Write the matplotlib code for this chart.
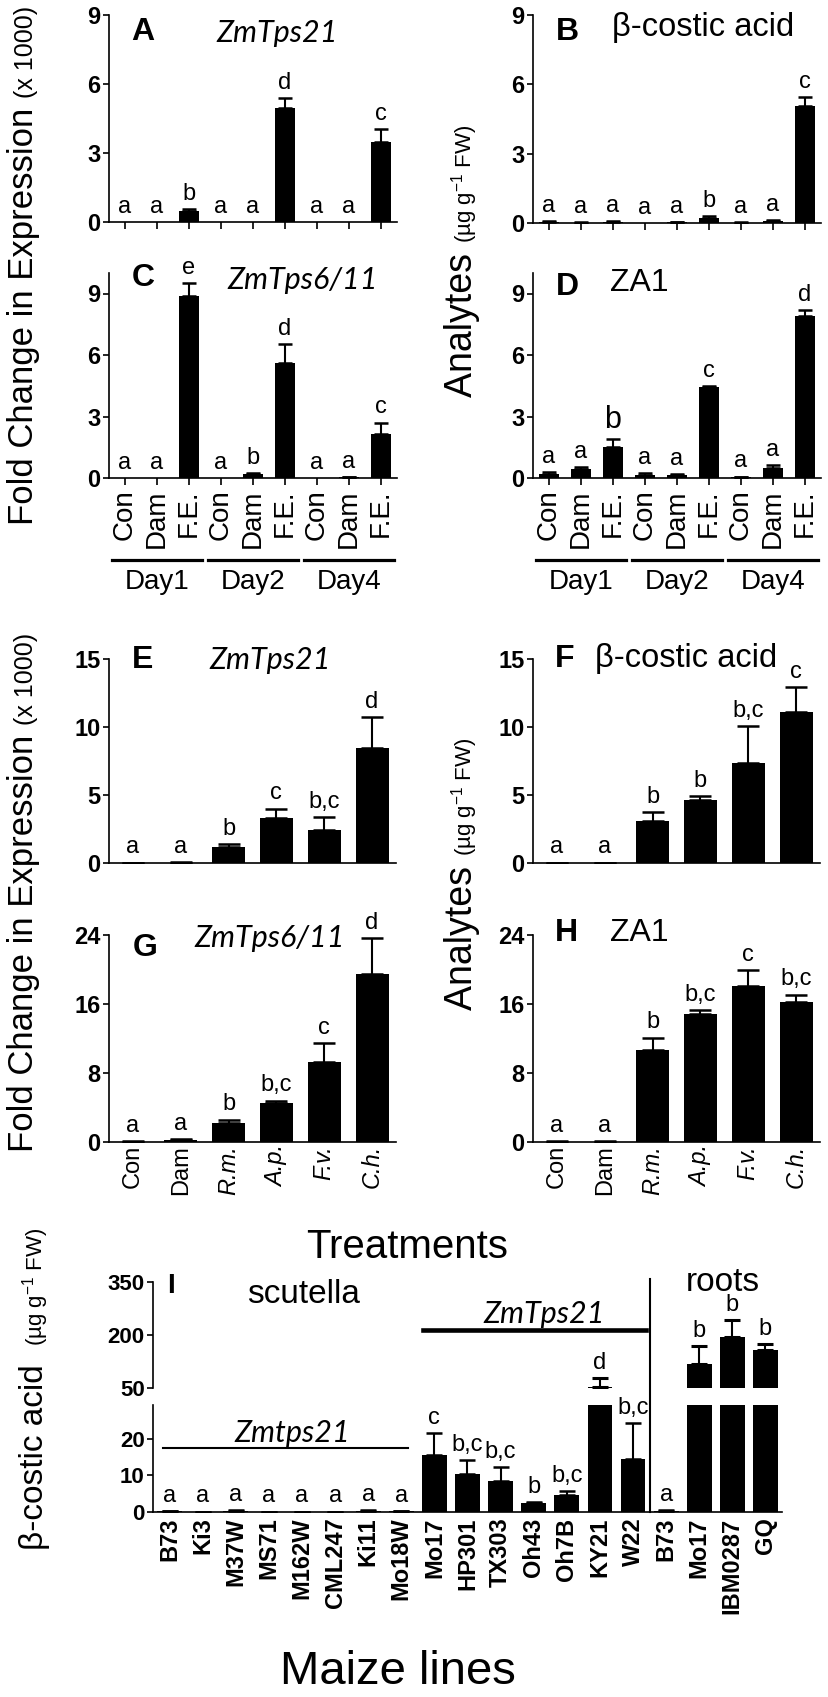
import numpy as np
import matplotlib
matplotlib.use('Agg')
import matplotlib.pyplot as plt
from matplotlib.transforms import blended_transform_factory

plt.rcParams['font.family'] = ['Liberation Sans', 'DejaVu Sans']
plt.rcParams['mathtext.fontset'] = 'custom'
plt.rcParams['mathtext.rm'] = 'Liberation Sans'
plt.rcParams['mathtext.it'] = 'Liberation Sans:italic'
plt.rcParams['mathtext.bf'] = 'Liberation Sans:bold'

# ---- data ----
day_cats = ['Con', 'Dam', 'F.E.'] * 3
day_groups = ['Day1', 'Day2', 'Day4']

a_vals = [0.01, 0.01, 0.5, 0.01, 0.01, 4.95, 0.01, 0.01, 3.5]
a_err = [0, 0, 0.06, 0, 0, 0.45, 0, 0, 0.55]
a_let = ['a', 'a', 'b', 'a', 'a', 'd', 'a', 'a', 'c']

b_vals = [0.05, 0.02, 0.06, 0.01, 0.03, 0.22, 0.02, 0.08, 5.05]
b_err = [0.02, 0.01, 0.02, 0, 0.01, 0.08, 0.01, 0.04, 0.4]
b_let = ['a', 'a', 'a', 'a', 'a', 'b', 'a', 'a', 'c']

c_vals = [0.01, 0.01, 8.9, 0.01, 0.2, 5.6, 0.01, 0.03, 2.15]
c_err = [0, 0, 0.6, 0, 0.05, 0.95, 0, 0.01, 0.55]
c_let = ['a', 'a', 'e', 'a', 'b', 'd', 'a', 'a', 'c']

d_vals = [0.2, 0.45, 1.5, 0.15, 0.15, 4.43, 0.05, 0.5, 7.9]
d_err = [0.1, 0.1, 0.4, 0.07, 0.03, 0.07, 0.02, 0.12, 0.3]
d_let = ['a', 'a', 'b', 'a', 'a', 'c', 'a', 'a', 'd']

treat_cats = ['Con', 'Dam', 'R.m.', 'A.p.', 'F.v.', 'C.h.']
treat_italic = [False, False, True, True, True, True]

e_vals = [0.02, 0.03, 1.2, 3.3, 2.45, 8.45]
e_err = [0.01, 0.01, 0.2, 0.7, 0.9, 2.25]
e_let = ['a', 'a', 'b', 'c', 'b,c', 'd']

f_vals = [0.02, 0.02, 3.1, 4.6, 7.35, 11.1]
f_err = [0.01, 0.01, 0.65, 0.3, 2.7, 1.85]
f_let = ['a', 'a', 'b', 'b', 'b,c', 'c']

g_vals = [0.05, 0.25, 2.2, 4.5, 9.3, 19.5]
g_err = [0.02, 0.05, 0.4, 0.3, 2.2, 4.1]
g_let = ['a', 'a', 'b', 'b,c', 'c', 'd']

h_vals = [0.05, 0.05, 10.7, 14.85, 18.1, 16.2]
h_err = [0.02, 0.02, 1.4, 0.45, 1.8, 0.9]
h_let = ['a', 'a', 'b', 'b,c', 'c', 'b,c']

maize_lines = ['B73', 'Ki3', 'M37W', 'MS71', 'M162W', 'CML247', 'Ki11', 'Mo18W',
               'Mo17', 'HP301', 'TX303', 'Oh43', 'Oh7B', 'KY21', 'W22',
               'B73', 'Mo17', 'IBM0287', 'GQ']
i_vals = [0.3, 0.1, 0.4, 0.1, 0.1, 0.1, 0.4, 0.3,
          15.6, 10.4, 8.5, 2.5, 4.6, 52, 14.5,
          0.4, 118, 194, 157]
i_err = [0.05, 0.02, 0.05, 0.02, 0.02, 0.02, 0.05, 0.05,
         6.0, 3.8, 3.8, 0.2, 1.1, 26, 9.9,
         0.05, 51, 48, 18]
i_let = ['a'] * 8 + ['c', 'b,c', 'b,c', 'b', 'b,c', 'd', 'b,c', 'a', 'b', 'b', 'b']

# ---- figure ----
W, H = 829, 1697
fig = plt.figure(figsize=(W / 100, H / 100), dpi=100)


def ax_at(l, t, r, b):
    return fig.add_axes([l / W, 1 - b / H, (r - l) / W, (b - t) / H])


def style(ax, yticks, ylim, ysize=17):
    for s in ['top', 'right']:
        ax.spines[s].set_visible(False)
    for s in ['left', 'bottom']:
        ax.spines[s].set_linewidth(1.2)
    ax.set_ylim(*ylim)
    ax.set_yticks(yticks)
    ax.tick_params(axis='y', length=4, width=1.2, pad=2, labelsize=ysize)
    for t in ax.get_yticklabels():
        t.set_fontweight('bold')


def bars(ax, vals, errs, lets, width, capsize, lsize=17, top=None, big=()):
    x = np.arange(len(vals))
    ax.bar(x, vals, width=width, color='black', zorder=3)
    vals = np.array(vals)
    errs = np.array(errs)
    m = errs > 0
    ax.errorbar(x[m], vals[m], yerr=[np.zeros(m.sum()), errs[m]], fmt='none',
                ecolor='black', elinewidth=1.5, capsize=capsize, capthick=1.8, zorder=2)
    for xi, v, e, l in zip(x, vals, errs, lets):
        if top is not None and v + e > top:
            continue
        ax.annotate(l, (xi, v + e), xytext=(0, 3), textcoords='offset points',
                    ha='center', va='bottom', fontsize=lsize + (5 if xi in big else 0))
    ax.set_xlim(-0.5, len(vals) - 0.5)


def title(ax, letter, lx, ly, name, nx, ny, italic=False, nsize=23):
    ax.text(lx, ly, letter, transform=ax.transAxes, fontsize=23, fontweight='bold',
            ha='center', va='center')
    if italic:
        ax.text(nx, ny, name, transform=ax.transAxes, fontsize=22, family='Lato',
                style='italic', ha='center', va='center')
    else:
        ax.text(nx, ny, name, transform=ax.transAxes, fontsize=nsize, ha='center', va='center')


# Panels A-D
axA = ax_at(109, 15, 397, 222)
axB = ax_at(533, 15, 821, 223)
axC = ax_at(109, 273, 397, 478)
axD = ax_at(533, 273, 821, 478)

for ax, v, e, l, yl, bg in [(axA, a_vals, a_err, a_let, (0, 9), ()),
                            (axB, b_vals, b_err, b_let, (0, 9), ()),
                            (axC, c_vals, c_err, c_let, (0, 10), ()),
                            (axD, d_vals, d_err, d_let, (0, 10), (2,))]:
    bars(ax, v, e, l, 0.65, 5, big=bg)
    style(ax, [0, 3, 6, 9], yl)
    ax.set_xticks(range(9))
    ax.tick_params(axis='x', length=5, width=1.2, direction='out')

axA.set_xticklabels([])
axB.set_xticklabels([])
for ax in [axC, axD]:
    ax.set_xticklabels(day_cats, rotation=90, fontsize=20)
    ax.tick_params(axis='x', pad=3)
    tr = blended_transform_factory(ax.transData, ax.transAxes)
    for gi, g in enumerate(day_groups):
        c = gi * 3 + 1
        ax.plot([c - 1.4, c + 1.4], [-0.4, -0.4], color='black', lw=2.3,
                transform=tr, clip_on=False)
        ax.text(c, -0.54, g, transform=tr, ha='center', va='baseline', fontsize=20)

title(axA, 'A', 0.118, 0.918, 'ZmTps21', 0.583, 0.913, italic=True)
title(axB, 'B', 0.118, 0.92, 'β-costic acid', 0.59, 0.94, nsize=23.5)
title(axC, 'C', 0.118, 0.976, 'ZmTps6/11', 0.674, 0.966, italic=True)
title(axD, 'D', 0.118, 0.93, 'ZA1', 0.368, 0.95, nsize=23)

# Panels E-H
axE = ax_at(109, 659, 396, 863)
axF = ax_at(533, 659, 820, 863)
axG = ax_at(109, 935, 396, 1142)
axH = ax_at(533, 935, 820, 1142)

for ax, v, e, l, yt in [(axE, e_vals, e_err, e_let, [0, 5, 10, 15]),
                        (axF, f_vals, f_err, f_let, [0, 5, 10, 15]),
                        (axG, g_vals, g_err, g_let, [0, 8, 16, 24]),
                        (axH, h_vals, h_err, h_let, [0, 8, 16, 24])]:
    bars(ax, v, e, l, 0.69, 8)
    style(ax, yt, (yt[0], yt[-1]))
    ax.set_xticks(range(6))
    ax.tick_params(axis='x', length=0, pad=2)

axE.set_xticklabels([])
axF.set_xticklabels([])
for ax in [axG, axH]:
    ax.set_xticklabels(treat_cats, rotation=90, fontsize=17)
    for t, it in zip(ax.get_xticklabels(), treat_italic):
        if it:
            t.set_style('italic')

title(axE, 'E', 0.118, 0.995, 'ZmTps21', 0.56, 0.995, italic=True)
title(axF, 'F', 0.11, 1.0, 'β-costic acid', 0.535, 1.0, nsize=23.5)
title(axG, 'G', 0.125, 0.937, 'ZmTps6/11', 0.56, 0.985, italic=True)
title(axH, 'H', 0.118, 1.01, 'ZA1', 0.372, 1.01, nsize=23)

# Panel I (broken axis)
axIu = ax_at(153, 1282, 782, 1388)
axIl = ax_at(153, 1405, 782, 1512)
low_top = 29.3
bars(axIl, i_vals, i_err, i_let, 0.75, 5.5, lsize=17, top=low_top)
style(axIl, [0, 10, 20], (0, low_top), ysize=16)

xu = np.arange(len(i_vals))
axIu.bar(xu, i_vals, width=0.75, color='black', zorder=3)
iv = np.array(i_vals)
ie = np.array(i_err)
mu = iv + ie > low_top
axIu.errorbar(xu[mu], iv[mu], yerr=[np.zeros(mu.sum()), ie[mu]], fmt='none',
              ecolor='black', elinewidth=1.5, capsize=5.5, capthick=2.2, zorder=2)
for xi, v, e, l in zip(xu[mu], iv[mu], ie[mu], np.array(i_let)[mu]):
    axIu.annotate(l, (xi, v + e), xytext=(0, 3), textcoords='offset points',
                  ha='center', va='bottom', fontsize=17)
axIu.set_xlim(-0.5, len(i_vals) - 0.5)
style(axIu, [50, 200, 350], (50, 350), ysize=16)
axIu.spines['bottom'].set_visible(False)
axIu.set_xticks([])

axIl.set_xticks(range(len(maize_lines)))
axIl.set_xticklabels(maize_lines, rotation=90, fontsize=17, fontweight='bold')
axIl.tick_params(axis='x', length=0, pad=4)

# annotations in panel I
axIl.plot([-0.2, 7.2], [17.5, 17.5], color='black', lw=1.5, clip_on=False)
axIl.text(3.7, 19.2, 'Zmtps21', family='Lato', style='italic', fontsize=22,
          ha='center', va='baseline')
axIu.plot([7.65, 14.4], [214, 214], color='black', lw=3.3, clip_on=False)
axIu.text(11.3, 234, 'ZmTps21', family='Lato', style='italic', fontsize=22,
          ha='center', va='baseline')
axIu.text(4.05, 290, 'scutella', fontsize=24, ha='center', va='baseline')
axIu.text(16.7, 324, 'roots', fontsize=24, ha='center', va='baseline')
axIu.text(0.05, 339, 'I', fontsize=20, fontweight='bold', ha='center', va='center')
axIl.axvline(14.5, ymin=0, ymax=(1512 - 1279) / (1512 - 1405), color='black',
             lw=1.5, clip_on=False)

# ---- shared axis labels ----
renderer = fig.canvas.get_renderer()


def vlabel(x, y, parts):
    for s, size in parts:
        t = fig.text(x / W, 1 - y / H, s, rotation=90, rotation_mode='anchor',
                     ha='left', va='baseline', fontsize=size)
        bb = t.get_window_extent(renderer)
        y -= bb.height


units = r'(µg g$^{-1}$ FW)'
vlabel(33, 525, [('Fold Change in Expression ', 25), ('(x 1000)', 18)])
vlabel(33, 1152, [('Fold Change in Expression ', 25), ('(x 1000)', 18)])
vlabel(472, 397, [('Analytes ', 27), (units, 16)])
vlabel(472, 1010, [('Analytes ', 27), (units, 16)])
vlabel(43, 1550, [('β-costic acid  ', 24), (units, 16)])

fig.text(407 / W, 1 - 1258 / H, 'Treatments', fontsize=29, ha='center', va='baseline')
fig.text(398 / W, 1 - 1684 / H, 'Maize lines', fontsize=34, ha='center', va='baseline')

fig.savefig('out.png', dpi=100)
